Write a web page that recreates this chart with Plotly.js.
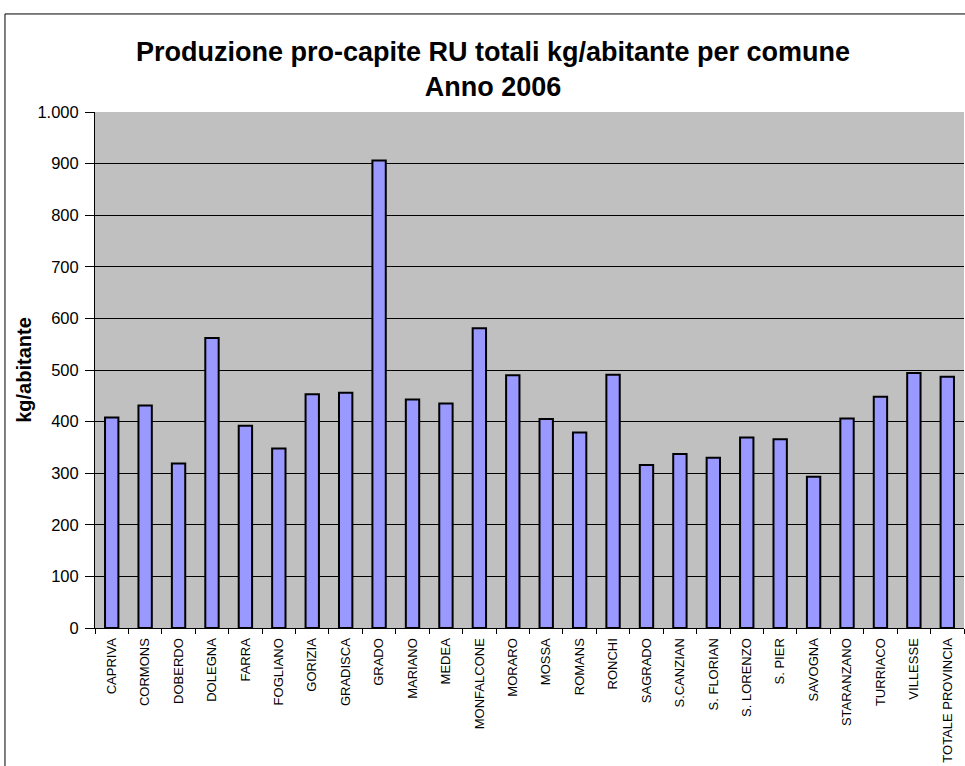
<!DOCTYPE html>
<html>
<head>
<meta charset="utf-8">
<script src="https://cdn.plot.ly/plotly-3.0.1.min.js"></script>
<style>
  html, body { margin: 0; padding: 0; background: #ffffff; }
  #chart { width: 965px; height: 766px; }
</style>
</head>
<body>
<div id="chart"></div>
<script>
const comuni = [
  "CAPRIVA", "CORMONS", "DOBERDO", "DOLEGNA", "FARRA", "FOGLIANO", "GORIZIA",
  "GRADISCA", "GRADO", "MARIANO", "MEDEA", "MONFALCONE", "MORARO", "MOSSA",
  "ROMANS", "RONCHI", "SAGRADO", "S.CANZIAN", "S. FLORIAN", "S. LORENZO",
  "S. PIER", "SAVOGNA", "STARANZANO", "TURRIACO", "VILLESSE", "TOTALE PROVINCIA"
];
const kgAbitante = [
  408, 431, 319, 562, 392, 348, 453,
  456, 906, 443, 435, 581, 490, 405,
  379, 491, 316, 337, 330, 369,
  366, 293, 406, 448, 494, 487
];
const yTickVals = [0, 100, 200, 300, 400, 500, 600, 700, 800, 900, 1000];

const trace = {
  type: "bar",
  x: comuni,
  y: kgAbitante,
  marker: { color: "#9999FF", line: { color: "#000000", width: 2 } },
  hoverinfo: "x+y"
};

const layout = {
  width: 965,
  height: 766,
  margin: { l: 95, r: 1, t: 112, b: 138, pad: 0 },
  paper_bgcolor: "#FFFFFF",
  plot_bgcolor: "#C0C0C0",
  separators: ",.",
  showlegend: false,
  bargap: 0.6,
  font: { family: "Liberation Sans, Arial, sans-serif", color: "#000000" },
  title: {
    text: "Produzione pro-capite RU totali kg/abitante per comune<br>Anno 2006",
    font: { family: "Liberation Sans, Arial, sans-serif", size: 27, color: "#000000", weight: "bold" },
    x: 493 / 965, xanchor: "center", xref: "container",
    y: 1 - 61 / 766, yanchor: "middle", yref: "container"
  },
  xaxis: {
    type: "category",
    tickangle: -90,
    tickfont: { size: 13, color: "#000000" },
    ticks: "outside", ticklen: 5, tickcolor: "#000000", tickwidth: 1,
    tickson: "boundaries",
    ticklabelstandoff: 4,
    showline: true, linecolor: "#000000", linewidth: 1,
    showgrid: false, zeroline: false, automargin: false
  },
  yaxis: {
    range: [0, 1000],
    tickvals: yTickVals,
    tickformat: ",d",
    tickfont: { size: 16.5, color: "#000000" },
    ticks: "outside", ticklen: 9, tickcolor: "#000000", tickwidth: 1,
    ticklabelstandoff: 3,
    showline: true, linecolor: "#000000", linewidth: 1,
    showgrid: true, gridcolor: "#000000", gridwidth: 1,
    zeroline: false, automargin: false,
    title: { text: "kg/abitante", font: { size: 20, color: "#000000", weight: "bold" }, standoff: 0 }
  },
  shapes: [
    { type: "rect", xref: "paper", yref: "paper",
      x0: -0.1036, x1: 1.01, y0: -0.4, y1: 1.19,
      line: { color: "#000000", width: 1 }, fillcolor: "rgba(0,0,0,0)", layer: "above" }
  ]
};

Plotly.newPlot("chart", [trace], layout, { displayModeBar: false, staticPlot: true });
</script>
</body>
</html>
